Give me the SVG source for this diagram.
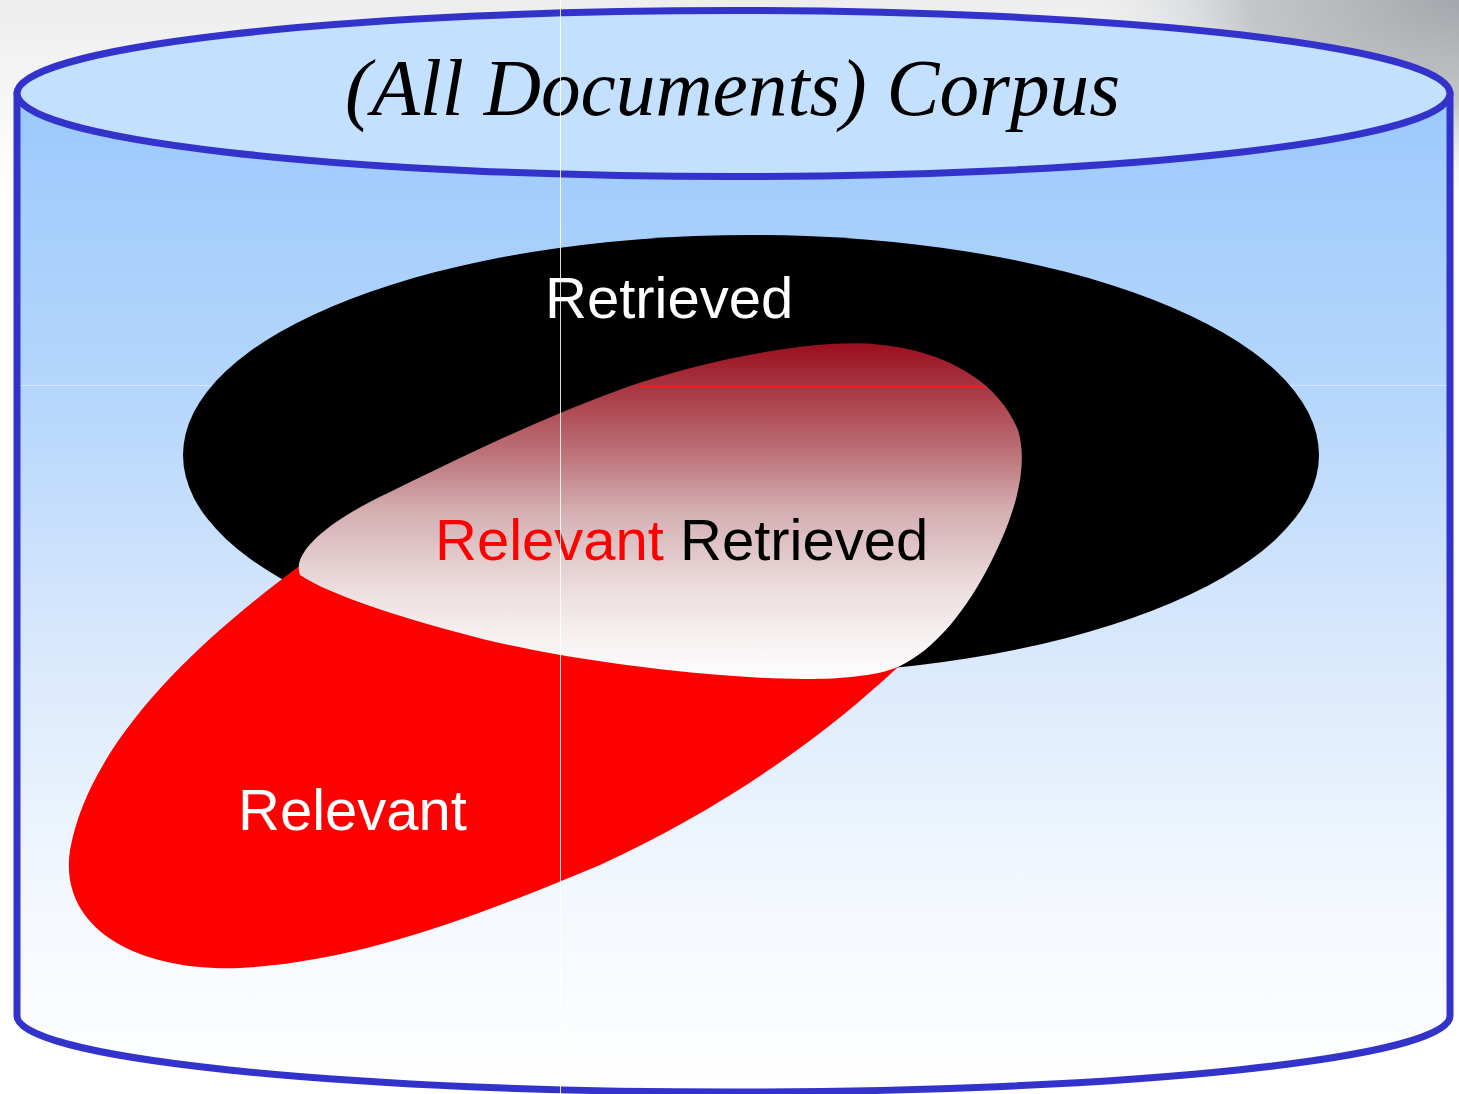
<svg xmlns="http://www.w3.org/2000/svg" width="1459" height="1094" viewBox="0 0 1459 1094">
  <defs>
    <linearGradient id="bgTop" x1="0" y1="0" x2="0" y2="1">
      <stop offset="0" stop-color="#ededed"/>
      <stop offset="0.18" stop-color="#ffffff"/>
      <stop offset="1" stop-color="#ffffff"/>
    </linearGradient>
    <radialGradient id="bgCorner" cx="0" cy="0" r="420" gradientUnits="userSpaceOnUse" gradientTransform="translate(1459,0) scale(1,0.5)">
      <stop offset="0" stop-color="#a4a8ac"/>
      <stop offset="0.5" stop-color="#c4c7ca"/>
      <stop offset="1" stop-color="#ffffff" stop-opacity="0"/>
    </radialGradient>
    <linearGradient id="body" x1="0" y1="93" x2="0" y2="1092" gradientUnits="userSpaceOnUse">
      <stop offset="0" stop-color="#9bc9fc"/>
      <stop offset="0.3" stop-color="#b5d6fc"/>
      <stop offset="0.55" stop-color="#d8e8fc"/>
      <stop offset="0.8" stop-color="#f3f8fe"/>
      <stop offset="1" stop-color="#ffffff"/>
    </linearGradient>
    <linearGradient id="blobFill" x1="0" y1="344" x2="0" y2="680" gradientUnits="userSpaceOnUse">
      <stop offset="0" stop-color="#9a0f20"/>
      <stop offset="0.15" stop-color="#aa3c46"/>
      <stop offset="0.33" stop-color="#bd747a"/>
      <stop offset="0.5" stop-color="#d4afb2"/>
      <stop offset="0.75" stop-color="#eee1e2"/>
      <stop offset="1" stop-color="#ffffff"/>
    </linearGradient>
    <path id="blobPath" d="M 300,575 C 292,555 320,525 390,492 C 460,458 540,418 627,387 C 720,355 820,340 873,344 C 950,350 1000,385 1018,430 C 1030,470 1012,520 992,560 C 967,610 935,650 898,667 C 860,683 780,680 720,675 C 620,667 520,650 460,633 C 400,617 330,595 300,575 Z"/>
    <clipPath id="blobClip"><use href="#blobPath"/></clipPath>
  </defs>
  <style>
    .cyl { stroke: #3333cc; stroke-width: 7; stroke-linejoin: round; stroke-linecap: round; }
    .lbl { font-family: "Liberation Sans", Arial, sans-serif; font-size: 58px; }
    .title { font-family: "Liberation Serif", "DejaVu Serif", serif; font-style: italic; font-size: 80px; fill: #000; }
  </style>

  <g id="background">
    <rect x="0" y="0" width="1459" height="1094" fill="url(#bgTop)"/>
    <rect x="0" y="0" width="1459" height="1094" fill="url(#bgCorner)"/>
  </g>

  <g id="corpus">
    <path d="M 17,93 V 1016 A 716.5,76 0 0 0 1450,1016 V 93 Z" fill="url(#body)"/>
    <line x1="20" y1="385.5" x2="1447" y2="385.5" stroke="#ffffff" stroke-opacity="0.45" stroke-width="1"/>
    <path class="cyl" d="M 17,93 V 1016 A 716.5,76 0 0 0 1450,1016 V 93" fill="none"/>
    <ellipse class="cyl" cx="733.5" cy="93.5" rx="716.5" ry="83" fill="#c3e0fe"/>
    <text class="title" x="345" y="115" textLength="775" lengthAdjust="spacingAndGlyphs">(All Documents) Corpus</text>
  </g>

  <g id="retrieved">
    <ellipse cx="751" cy="455" rx="568" ry="220" fill="#000000"/>
    <text class="lbl" x="545" y="318" fill="#ffffff">Retrieved</text>
  </g>

  <g id="relevant">
    <path d="M 298,567 C 200,640 90,740 70,850 C 58,930 140,972 240,968 C 360,962 480,915 600,865 C 720,810 820,740 898,667 L 700,620 L 450,595 L 330,578 Z" fill="#ff0000"/>
    <text class="lbl" x="238" y="830" fill="#ffffff">Relevant</text>
  </g>

  <g id="relevant-retrieved">
    <use href="#blobPath" fill="url(#blobFill)"/>
    <line x1="640" y1="386.5" x2="1030" y2="386.5" stroke="#ff1a1a" stroke-width="1.3" clip-path="url(#blobClip)"/>
    <text class="lbl" x="435" y="560"><tspan fill="#ff0000">Relevant</tspan><tspan fill="#000000"> Retrieved</tspan></text>
  </g>

  <g id="connectors"></g>

  <g id="seams">
    <line x1="560.5" y1="0" x2="560.5" y2="1094" stroke="#ffffff" stroke-opacity="0.85" stroke-width="1"/>
  </g>
</svg>
